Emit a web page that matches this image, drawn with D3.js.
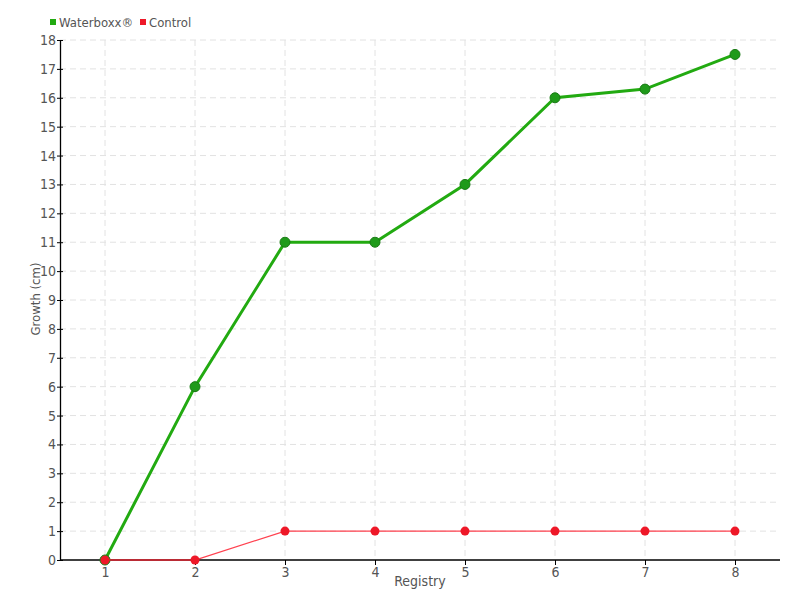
<!DOCTYPE html>
<html>
<head>
<meta charset="utf-8">
<script src="https://cdn.jsdelivr.net/npm/d3@7"></script>
<style>
  body { margin: 0; background: #fff; }
  text { font-family: "DejaVu Sans Condensed", "DejaVu Sans", sans-serif; fill: #555; }
</style>
</head>
<body>
<svg id="chart" width="800" height="600"></svg>
<script>
"use strict";

var registry = [1, 2, 3, 4, 5, 6, 7, 8];
var waterboxx = [0, 6, 11, 11, 13, 16, 16.3, 17.5];
var control = [0, 0, 1, 1, 1, 1, 1, 1];
var yTicks = d3.range(0, 19);

var svg = d3.select("#chart");
var plotLeft = 60, plotRight = 780, plotTop = 40, plotBottom = 560;

var x = d3.scaleLinear().domain([0.5, 8.5]).range([plotLeft, plotRight]);
var y = d3.scaleLinear().domain([0, 18]).range([plotBottom, plotTop]);

// grid
svg.append("g").selectAll("line")
    .data(yTicks.filter(function (d) { return d > 0; }))
    .enter().append("line")
    .attr("x1", plotLeft).attr("x2", plotRight)
    .attr("y1", function (d) { return y(d); })
    .attr("y2", function (d) { return y(d); })
    .attr("stroke", "#e2e2e2").attr("stroke-dasharray", "6,4");

svg.append("g").selectAll("line")
    .data(registry)
    .enter().append("line")
    .attr("x1", function (d) { return x(d); })
    .attr("x2", function (d) { return x(d); })
    .attr("y1", plotTop).attr("y2", plotBottom)
    .attr("stroke", "#e2e2e2").attr("stroke-dasharray", "6,4");

// axes
var xAxis = svg.append("g")
    .attr("transform", "translate(0," + plotBottom + ")")
    .call(d3.axisBottom(x).tickValues(registry).tickSize(5).tickSizeOuter(0));
var yAxis = svg.append("g")
    .attr("transform", "translate(" + plotLeft + ",0)")
    .call(d3.axisLeft(y).tickValues(yTicks).tickSize(3).tickSizeOuter(0));

[xAxis, yAxis].forEach(function (a) {
    a.select(".domain").attr("stroke", "#000").attr("stroke-width", 1.3);
    a.selectAll(".tick line").attr("stroke", "#000");
    a.selectAll(".tick text").style("font-size", "14px").attr("fill", "#555");
});
xAxis.select(".domain").attr("d", "M" + plotLeft + ",0H" + plotRight);
yAxis.selectAll(".tick line").attr("x2", 3).attr("x1", -3);
yAxis.selectAll(".tick text").attr("x", -4);
xAxis.selectAll(".tick text").attr("y", 7);

// axis titles
svg.append("text")
    .attr("x", 420).attr("y", 586)
    .attr("text-anchor", "middle")
    .style("font-size", "14px")
    .text("Registry");
svg.append("text")
    .attr("transform", "translate(40,299) rotate(-90)")
    .attr("text-anchor", "middle")
    .style("font-size", "13px")
    .text("Growth (cm)");

var line = d3.line()
    .x(function (d, i) { return x(registry[i]); })
    .y(function (d) { return y(d); });

// Waterboxx series
svg.append("path").datum(waterboxx)
    .attr("d", line)
    .attr("fill", "none")
    .attr("stroke", "#22aa11")
    .attr("stroke-width", 3);
svg.append("g").selectAll("circle")
    .data(waterboxx).enter().append("circle")
    .attr("cx", function (d, i) { return x(registry[i]); })
    .attr("cy", function (d) { return y(d); })
    .attr("r", 5)
    .attr("fill", "#1f9a1a")
    .attr("stroke", "#1a7a15").attr("stroke-width", 1);

// Control series
svg.append("path").datum(control)
    .attr("d", line)
    .attr("fill", "none")
    .attr("stroke", "#ff2030")
    .attr("stroke-opacity", 0.85)
    .attr("stroke-width", 1.3);
svg.append("g").selectAll("circle")
    .data(control).enter().append("circle")
    .attr("cx", function (d, i) { return x(registry[i]); })
    .attr("cy", function (d) { return y(d); })
    .attr("r", 4.5)
    .attr("fill", "#ee1828");

// legend
var legend = [{ name: "Waterboxx\u00ae", color: "#22aa11", x: 50 },
              { name: "Control", color: "#ee1828", x: 140 }];
var lg = svg.append("g").selectAll("g")
    .data(legend).enter().append("g")
    .attr("transform", function (d) { return "translate(" + d.x + ",0)"; });
lg.append("rect")
    .attr("x", 0).attr("y", 19).attr("width", 6).attr("height", 6)
    .attr("fill", function (d) { return d.color; });
lg.append("text")
    .attr("x", 9).attr("y", 27)
    .style("font-size", "13px")
    .text(function (d) { return d.name; });
</script>
</body>
</html>
